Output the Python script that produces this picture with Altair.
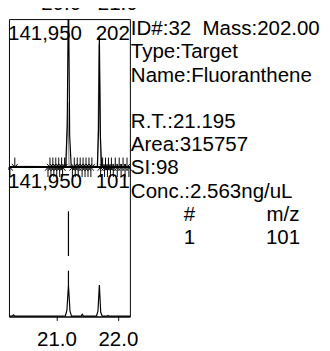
import altair as alt
import pandas as pd

# ---------------- data ----------------
# upper trace (m/z 202), black
top_t = [20.227, 20.40, 20.60, 20.85, 21.05, 21.15, 21.175, 21.195, 21.215, 21.24,
         21.40, 21.55, 21.665, 21.685, 21.698, 21.715, 21.735, 21.90, 22.195]
top_v = [400, 300, 500, 400, 600, 900, 40000, 175000, 30000, 900,
         500, 600, 900, 35000, 126000, 30000, 800, 400, 300]

# upper trace, grey companion
grey_t = [20.227, 20.50, 20.80, 21.10, 21.16, 21.185, 21.205, 21.23, 21.50,
          21.67, 21.694, 21.72, 22.0, 22.195]
grey_v = [800, 900, 800, 1000, 1200, 62000, 1500, 1100, 900,
          1200, 118000, 1400, 900, 800]

# lower trace (m/z 101)
bot_t = [20.227, 20.28, 20.30, 20.32, 21.00, 21.145, 21.17, 21.195, 21.22, 21.245,
         21.40, 21.42, 21.44, 21.65, 21.675, 21.698, 21.72, 21.745, 21.82, 21.84,
         21.86, 22.195]
bot_v = [300, 300, 1500, 300, 300, 500, 6000, 30000, 5000, 400,
         300, 2000, 300, 300, 5000, 30000, 4000, 300, 300, 1000,
         300, 300]

# peak markers
down_t = [20.322, 20.894, 20.941, 20.989, 21.037, 21.084, 21.132, 21.290, 21.338,
          21.386, 21.433, 21.481, 21.529, 21.576, 21.751, 21.798, 21.846, 21.894,
          21.957, 22.021, 22.084, 22.148]
up_t = [20.243, 20.862, 20.910, 20.957, 21.005, 21.052, 21.100, 21.259, 21.306,
        21.354, 21.417, 21.465, 21.513, 21.560, 21.719, 21.783, 21.830, 21.878,
        21.925, 21.989, 22.052, 22.116, 22.179]

rt_value = 21.195
rt_marker_top = 100200
rt_marker_bottom = 29700

scale_max = 141950
top_label = "141,950"
top_mass = "202"
bot_mass = "101"

bottom_ticks = [21.0, 22.0]
top_ticks = [20.0, 21.0]

info_rows = [0, 1, 2, 4, 5, 6, 7]
info_text = ["ID#:32\u00a0 Mass:202.00", "Type:Target", "Name:Fluoranthene",
             "R.T.:21.195", "Area:315757", "SI:98", "Conc.:2.563ng/uL"]
col1_rows = [8, 9]
col1_text = ["#", "1"]
col2_rows = [8, 9]
col2_text = ["m/z", "101"]

# ---------------- layout constants ----------------
W, H = 124, 305
FONT = "Liberation Sans"
FS = 21

X_MAIN = alt.Scale(domain=[20.227, 22.195], nice=False, zero=False)
Y_TOP = alt.Scale(domain=[-142884, scale_max], nice=False, zero=False)
Y_BOT = alt.Scale(domain=[0, 282963], nice=False, zero=False)
X_TOPAXIS = alt.Scale(domain=[19.086, 21.224], nice=False, zero=False)
Y_ROWS = alt.Scale(domain=[0, 9], range=[16.5, 230.7], nice=False, zero=False)

df_top = pd.DataFrame({"t": top_t, "v": top_v})
df_grey = pd.DataFrame({"t": grey_t, "v": grey_v})
df_bot = pd.DataFrame({"t": bot_t, "v": bot_v})
df_down = pd.DataFrame({"t": down_t})
df_up = pd.DataFrame({"t": up_t})
df_rt = pd.DataFrame({"t": [rt_value], "y1": [rt_marker_top], "y2": [rt_marker_bottom]})

xa = alt.X("t:Q", scale=X_MAIN, axis=None)

grey_line = alt.Chart(df_grey).mark_line(color="#8a8a8a", strokeWidth=1.2, clip=True).encode(
    x=xa, y=alt.Y("v:Q", scale=Y_TOP, axis=None))
black_line = alt.Chart(df_top).mark_line(color="black", strokeWidth=1.2, clip=True).encode(
    x=xa, y=alt.Y("v:Q", scale=Y_TOP, axis=None))
divider = alt.Chart(df_top).mark_rule(color="black", strokeWidth=1.2).encode(
    y=alt.datum(0, scale=Y_TOP))
down_arrows = alt.Chart(df_down).mark_point(
    shape="M0,-1L0,1M-0.6,0.3L0,1L0.6,0.3", size=100, filled=False,
    stroke="black", strokeWidth=1, opacity=1, yOffset=-5).encode(
    x=xa, y=alt.datum(0, scale=Y_TOP))
up_arrows = alt.Chart(df_up).mark_point(
    shape="M0,1L0,-1M-0.6,-0.3L0,-1L0.6,-0.3", size=100, filled=False,
    stroke="black", strokeWidth=1, opacity=1, yOffset=5).encode(
    x=xa, y=alt.datum(0, scale=Y_TOP))

top_panel = alt.layer(grey_line, black_line, divider, down_arrows, up_arrows)

xb = alt.X("t:Q", scale=X_MAIN,
           axis=alt.Axis(orient="bottom", values=bottom_ticks, format=".1f", title=None,
                         grid=False, domain=True, domainColor="black", domainWidth=1,
                         ticks=True, tickColor="black", tickSize=4,
                         labelFont=FONT, labelFontSize=FS, labelColor="black",
                         labelBaseline="alphabetic", labelPadding=26, labelFlush=False,
                         labelOverlap=False))
bot_line = alt.Chart(df_bot).mark_line(color="black", strokeWidth=1.2).encode(
    x=xb, y=alt.Y("v:Q", scale=Y_BOT, axis=None))
rt_rule = alt.Chart(df_rt).mark_rule(color="black", strokeWidth=1.2, strokeDash=[46, 15]).encode(
    x=alt.X("t:Q", scale=X_MAIN), y=alt.Y("y1:Q", scale=Y_BOT), y2="y2:Q")
bottom_panel = alt.layer(bot_line, rt_rule)

top_axis = alt.Chart(pd.DataFrame({"t": top_ticks})).mark_point(opacity=0).encode(
    x=alt.X("t:Q", scale=X_TOPAXIS,
            axis=alt.Axis(orient="top", values=top_ticks, format=".1f", title=None,
                          grid=False, domain=False, ticks=False, tickSize=0,
                          labelFont=FONT, labelFontSize=FS, labelColor="black",
                          labelBaseline="alphabetic", labelPadding=10, labelFlush=False,
                          labelOverlap=False)))

def txt(df, align, xpos):
    return alt.Chart(df).mark_text(align=align, baseline="alphabetic", font=FONT,
                                   fontSize=FS, color="black").encode(
        x=alt.value(xpos), y=alt.Y("row:Q", scale=Y_ROWS, axis=None), text="text:N")

info = txt(pd.DataFrame({"row": info_rows, "text": info_text}), "left", 125)
col1 = txt(pd.DataFrame({"row": col1_rows, "text": col1_text}), "center", 185)
col2 = txt(pd.DataFrame({"row": col2_rows, "text": col2_text}), "center", 281)

def lab(s, align, xpos, ypos):
    return alt.Chart(pd.DataFrame({"text": [s]})).mark_text(
        align=align, baseline="alphabetic", font=FONT, fontSize=FS, color="black").encode(
        x=alt.value(xpos), y=alt.value(ypos), text="text:N")

labels = [lab(top_label, "left", -1, 21), lab(top_mass, "right", 124, 21),
          lab(top_label, "left", -1, 173), lab(bot_mass, "right", 124, 173)]

chart = alt.layer(top_panel, bottom_panel, top_axis, info, col1, col2, *labels).resolve_scale(
    x="independent", y="independent").properties(
    width=W, height=H,
    autosize=alt.AutoSizeParams(type="none"),
    padding={"left": 1, "top": 7, "right": 197, "bottom": 31},
    background="white",
).configure_view(stroke="black", strokeWidth=1)

chart.save("out.html", embed_options={"renderer": "svg", "actions": False})
